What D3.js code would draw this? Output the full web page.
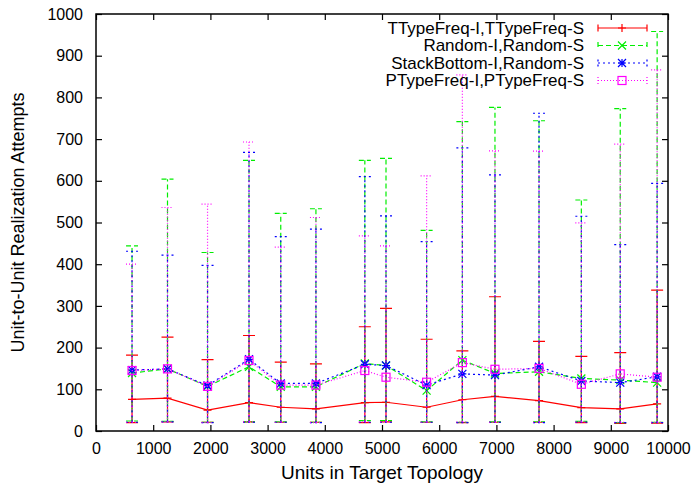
<!DOCTYPE html>
<html>
<head>
<meta charset="utf-8">
<script src="https://cdn.jsdelivr.net/npm/d3@7/dist/d3.min.js"></script>
<style>
  body { margin: 0; background: #fff; }
  svg { display: block; font-family: "Liberation Sans", Arial, sans-serif; }
</style>
</head>
<body>
<svg id="chart" width="695" height="486"></svg>
<script>
// x positions (units in target topology)
var units = [630, 1250, 1950, 2675, 3230, 3845, 4700, 5070, 5780, 6405, 6975, 7745, 8485, 9165, 9810];

// TTypeFreq-I,TTypeFreq-S
var ttypeMean = [76, 79, 50, 68, 57, 53, 68, 69, 57, 75, 83, 73, 56, 53, 65];
var ttypeLow  = [20, 22, 21, 22, 21, 21, 20, 22, 21, 20, 21, 21, 20, 18, 19];
var ttypeHigh = [182, 225, 171, 229, 165, 161, 250, 294, 220, 192, 322, 215, 179, 188, 338];

// Random-I,Random-S
var randomMean = [139, 149, 107, 154, 106, 106, 162, 157, 97, 170, 138, 142, 126, 122, 116];
var randomLow  = [24, 23, 21, 22, 22, 21, 25, 25, 22, 21, 22, 22, 23, 20, 21];
var randomHigh = [444, 604, 428, 649, 522, 533, 649, 654, 481, 742, 776, 744, 554, 773, 958];

// StackBottom-I,Random-S
var stackMean = [146, 149, 109, 172, 114, 114, 160, 157, 110, 137, 134, 154, 120, 116, 130];
var stackLow  = [21, 22, 20, 21, 21, 20, 21, 21, 21, 20, 21, 20, 21, 20, 20];
var stackHigh = [431, 422, 397, 668, 466, 484, 610, 516, 454, 679, 614, 762, 515, 447, 594];

// PTypeFreq-I,PTypeFreq-S
var ptypeMean = [145, 149, 107, 169, 110, 110, 145, 129, 117, 164, 148, 150, 112, 137, 129];
var ptypeLow  = [21, 22, 20, 22, 21, 20, 22, 22, 21, 22, 21, 21, 22, 21, 21];
var ptypeHigh = [400, 536, 544, 693, 441, 512, 468, 444, 612, 854, 672, 671, 499, 688, 866];

var xTicks = [0, 1000, 2000, 3000, 4000, 5000, 6000, 7000, 8000, 9000, 10000];
var yTicks = [0, 100, 200, 300, 400, 500, 600, 700, 800, 900, 1000];

function build(mean, low, high) {
  return units.map(function(u, i) { return { x: u, y: mean[i], lo: low[i], hi: high[i] }; });
}

var series = [
  { name: "TTypeFreq-I,TTypeFreq-S", color: "#ff0000", dash: null, marker: "plus", data: build(ttypeMean, ttypeLow, ttypeHigh) },
  { name: "Random-I,Random-S", color: "#00ee00", dash: "5,3", marker: "cross", data: build(randomMean, randomLow, randomHigh) },
  { name: "StackBottom-I,Random-S", color: "#0000ff", dash: "2,3", marker: "star", data: build(stackMean, stackLow, stackHigh) },
  { name: "PTypeFreq-I,PTypeFreq-S", color: "#ff00ff", dash: "1,2", marker: "square", data: build(ptypeMean, ptypeLow, ptypeHigh) }
];

var plotL = 96, plotR = 668, plotT = 14, plotB = 431;

var svg = d3.select("#chart");
var x = d3.scaleLinear().domain([0, 10000]).range([plotL, plotR]);
var y = d3.scaleLinear().domain([0, 1000]).range([plotB, plotT]);

// axes, ticks pointing inward
var tick = 6;
var fmt = d3.format("d");
var gx = svg.append("g").attr("transform", "translate(0," + plotB + ")")
  .call(d3.axisBottom(x).tickValues(xTicks).tickFormat(fmt).tickSizeInner(-tick).tickSizeOuter(0).tickPadding(12));
var gy = svg.append("g").attr("transform", "translate(" + plotL + ",0)")
  .call(d3.axisLeft(y).tickValues(yTicks).tickFormat(fmt).tickSizeInner(-tick).tickSizeOuter(0).tickPadding(13));
var gx2 = svg.append("g").attr("transform", "translate(0," + plotT + ")")
  .call(d3.axisTop(x).tickValues(xTicks).tickSizeInner(-tick).tickSizeOuter(0).tickFormat(""));
var gy2 = svg.append("g").attr("transform", "translate(" + plotR + ",0)")
  .call(d3.axisRight(y).tickValues(yTicks).tickSizeInner(-tick).tickSizeOuter(0).tickFormat(""));

[gx, gy, gx2, gy2].forEach(function(g) {
  g.attr("font-family", null).attr("font-size", null);
  g.select(".domain").remove();
  g.selectAll(".tick line").attr("stroke", "#000").attr("stroke-width", 1.2);
  g.selectAll("text").attr("font-size", 16).attr("fill", "#000");
});

svg.append("rect")
  .attr("x", plotL).attr("y", plotT)
  .attr("width", plotR - plotL).attr("height", plotB - plotT)
  .attr("fill", "none").attr("stroke", "#000").attr("stroke-width", 1.5);

// axis titles
svg.append("text")
  .attr("x", (plotL + plotR) / 2).attr("y", 479)
  .attr("text-anchor", "middle").attr("font-size", 19)
  .text("Units in Target Topology");
svg.append("text")
  .attr("transform", "translate(24," + ((plotT + plotB) / 2) + ") rotate(-90)")
  .attr("text-anchor", "middle").attr("font-size", 18)
  .text("Unit-to-Unit Realization Attempts");

function drawMarker(g, type, cx, cy, color) {
  var s = 4;
  if (type === "plus") {
    g.append("path").attr("d", "M" + (cx - s) + "," + cy + "H" + (cx + s) + "M" + cx + "," + (cy - s) + "V" + (cy + s))
      .attr("stroke", color).attr("stroke-width", 1.2).attr("fill", "none");
  } else if (type === "cross") {
    g.append("path").attr("d", "M" + (cx - s) + "," + (cy - s) + "L" + (cx + s) + "," + (cy + s) + "M" + (cx - s) + "," + (cy + s) + "L" + (cx + s) + "," + (cy - s))
      .attr("stroke", color).attr("stroke-width", 1.2).attr("fill", "none");
  } else if (type === "star") {
    g.append("path").attr("d",
      "M" + (cx - s) + "," + cy + "H" + (cx + s) + "M" + cx + "," + (cy - s) + "V" + (cy + s) +
      "M" + (cx - s) + "," + (cy - s) + "L" + (cx + s) + "," + (cy + s) + "M" + (cx - s) + "," + (cy + s) + "L" + (cx + s) + "," + (cy - s))
      .attr("stroke", color).attr("stroke-width", 1.2).attr("fill", "none");
  } else {
    g.append("rect").attr("x", cx - s).attr("y", cy - s).attr("width", 2 * s).attr("height", 2 * s)
      .attr("stroke", color).attr("stroke-width", 1.2).attr("fill", "none");
  }
}

var line = d3.line().x(function(d) { return x(d.x); }).y(function(d) { return y(d.y); });
var cap = 6;

series.forEach(function(s) {
  var g = svg.append("g");
  // error bars
  s.data.forEach(function(d) {
    var px = x(d.x);
    g.append("path")
      .attr("d", "M" + px + "," + y(d.lo) + "V" + y(d.hi) +
                 "M" + (px - cap) + "," + y(d.lo) + "H" + (px + cap) +
                 "M" + (px - cap) + "," + y(d.hi) + "H" + (px + cap))
      .attr("stroke", s.color).attr("stroke-width", 1.2).attr("fill", "none")
      .attr("stroke-dasharray", s.dash);
  });
  g.append("path").datum(s.data).attr("d", line)
    .attr("stroke", s.color).attr("stroke-width", 1.2).attr("fill", "none")
    .attr("stroke-dasharray", s.dash);
  s.data.forEach(function(d) { drawMarker(g, s.marker, x(d.x), y(d.y), s.color); });
});

// legend
var legend = svg.append("g");
series.forEach(function(s, i) {
  var ly = 28 + i * 17.5;
  legend.append("text").attr("x", 584).attr("y", ly).attr("dy", "0.35em")
    .attr("text-anchor", "end").attr("font-size", 17).text(s.name);
  legend.append("path")
    .attr("d", "M598," + ly + "H647M598," + (ly - 3.5) + "V" + (ly + 3.5) + "M647," + (ly - 3.5) + "V" + (ly + 3.5))
    .attr("stroke", s.color).attr("stroke-width", 1.2).attr("fill", "none")
    .attr("stroke-dasharray", s.dash);
  drawMarker(legend, s.marker, 622, ly, s.color);
});
</script>
</body>
</html>
